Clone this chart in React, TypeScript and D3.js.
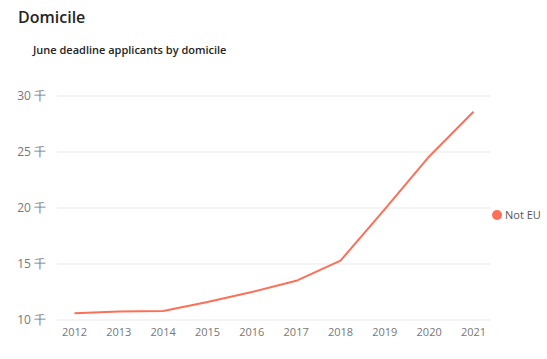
import React, { useEffect, useRef } from "react"
import * as d3 from "d3"

// June deadline applicants by domicile (thousands)
const years = ["2012", "2013", "2014", "2015", "2016", "2017", "2018", "2019", "2020", "2021"]
const notEU = [10.6, 10.75, 10.8, 11.6, 12.5, 13.5, 15.3, 19.9, 24.6, 28.6]
const yTicks = [10, 15, 20, 25, 30]
const seriesName = "Not EU"

const font = "'Open Sans', 'Noto Sans', sans-serif"

const drawChart = (wrapper: SVGSVGElement) => {
  const svg = d3.select(wrapper)
  svg.selectAll("*").remove()

  svg
    .append("text")
    .attr("x", 18)
    .attr("y", 23)
    .style("font-family", font)
    .style("font-size", "16px")
    .style("font-weight", 600)
    .attr("fill", "#252423")
    .text("Domicile")

  svg
    .append("text")
    .attr("x", 33)
    .attr("y", 54)
    .style("font-family", font)
    .style("font-size", "11px")
    .style("font-weight", 600)
    .attr("fill", "#252423")
    .text("June deadline applicants by domicile")

  const x = d3.scalePoint().domain(years).range([74.5, 473.5])
  const y = d3.scaleLinear().domain([10, 30]).range([320, 96])

  // grid
  svg
    .append("g")
    .selectAll("line")
    .data(yTicks)
    .enter()
    .append("line")
    .attr("x1", 57)
    .attr("x2", 491)
    .attr("y1", d => y(d))
    .attr("y2", d => y(d))
    .attr("stroke", "#f0f0f0")
    .attr("stroke-width", 1.5)

  svg
    .append("g")
    .selectAll("text")
    .data(yTicks)
    .enter()
    .append("text")
    .attr("x", 46)
    .attr("y", d => y(d))
    .attr("dy", "0.35em")
    .attr("text-anchor", "end")
    .style("font-family", font)
    .style("font-size", "12px")
    .attr("fill", "#777")
    .text(d => d + " 千")

  svg
    .append("g")
    .selectAll("text")
    .data(years)
    .enter()
    .append("text")
    .attr("x", d => x(d) as number)
    .attr("y", 336)
    .attr("text-anchor", "middle")
    .style("font-family", font)
    .style("font-size", "11px")
    .attr("fill", "#777")
    .text(d => d)

  const line = d3
    .line<number>()
    .x((_, i) => x(years[i]) as number)
    .y(d => y(d))

  svg
    .append("path")
    .datum(notEU)
    .attr("d", line)
    .attr("fill", "none")
    .attr("stroke", "#fd6f58")
    .attr("stroke-width", 2)
    .attr("stroke-linejoin", "round")

  // legend
  svg.append("circle").attr("cx", 497).attr("cy", 215).attr("r", 5).attr("fill", "#fd6f58")
  svg
    .append("text")
    .attr("x", 505)
    .attr("y", 215)
    .attr("dy", "0.35em")
    .style("font-family", font)
    .style("font-size", "11px")
    .attr("fill", "#555")
    .text(seriesName)
}

export default function App() {
  const ref = useRef<SVGSVGElement>(null)
  useEffect(() => {
    if (ref.current) drawChart(ref.current)
  }, [])

  return (
    <svg
      ref={ref}
      width={547}
      height={359}
      style={{ position: "absolute", left: 0, top: 0, background: "#fff" }}
    ></svg>
  )
}
